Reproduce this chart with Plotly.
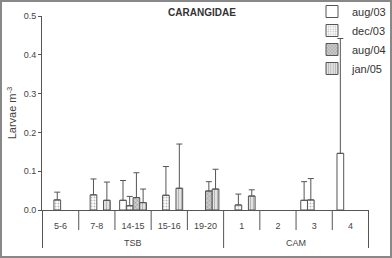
import plotly.graph_objects as go

# ---- data ----
categories = ["5-6", "7-8", "14-15", "15-16", "19-20", "1", "2", "3", "4"]
groups = ["TSB", "TSB", "TSB", "TSB", "TSB", "CAM", "CAM", "CAM", "CAM"]
series_names = ["aug/03", "dec/03", "aug/04", "jan/05"]

aug03 = [None, None, 0.025, None, None, None, None, 0.025, 0.146]
aug03_sd = [0, 0, 0.051, 0, 0, 0, 0, 0.048, 0.296]
dec03 = [0.026, 0.039, 0.011, 0.038, None, 0.013, None, 0.026, None]
dec03_sd = [0.020, 0.041, 0.024, 0.074, 0, 0.028, 0, 0.055, 0]
aug04 = [None, None, 0.032, None, 0.049, None, None, None, None]
aug04_sd = [0, 0, 0.064, 0, 0.024, 0, 0, 0, 0]
jan05 = [None, 0.025, 0.019, 0.056, 0.054, 0.036, None, None, None]
jan05_sd = [0, 0.047, 0.035, 0.114, 0.051, 0.016, 0, 0, 0]

y_ticks = [0.0, 0.1, 0.2, 0.3, 0.4, 0.5]

# ---- styling ----
W, H = 392, 258
L, R, T, B = 42, 23, 16, 48
PW, PH = W - L - R, H - T - B
LINE = "#555555"
TXT = "#444444"
FONT = "Arial, Liberation Sans, sans-serif"

styles = [
    dict(color="white", pattern=dict(shape="")),
    dict(color="white", pattern=dict(shape=".", fgcolor="#777777", bgcolor="white", size=3, solidity=0.35)),
    dict(color="#bbbbbb", pattern=dict(shape="x", fgcolor="#555555", bgcolor="#cccccc", size=3, solidity=0.3)),
    dict(color="#dddddd", pattern=dict(shape="|", fgcolor="#888888", bgcolor="#e2e2e2", size=3, solidity=0.35)),
]

fig = go.Figure()
for name, vals, sds, st in zip(series_names, [aug03, dec03, aug04, jan05],
                               [aug03_sd, dec03_sd, aug04_sd, jan05_sd], styles):
    fig.add_trace(go.Bar(
        x=categories, y=vals, name=name,
        marker=dict(color=st["color"], pattern=st["pattern"], line=dict(color=LINE, width=1)),
        error_y=dict(type="data", array=sds, arrayminus=[0] * len(sds), symmetric=False,
                     color=LINE, thickness=1, width=3),
    ))

n = len(categories)
shapes = []
# dividers between categories (taller at group edges)
for i in range(n + 1):
    xb = i - 0.5
    is_group_edge = (i == 0 or i == n or groups[i] != groups[i - 1])
    shapes.append(dict(type="line", xref="x", yref="paper", x0=xb, x1=xb,
                       y0=0, y1=-(38 if is_group_edge else 20) / PH,
                       line=dict(color=LINE, width=1)))
# outer border of the figure
shapes.append(dict(type="rect", xref="paper", yref="paper",
                   x0=(1 - L) / PW, x1=(W - 1 - L) / PW,
                   y0=-(H - 1 - (T + PH)) / PH, y1=(T + PH - 1) / PH,
                   line=dict(color="#888888", width=2)))

annotations = []
seen = []
for g in groups:
    if g not in seen:
        seen.append(g)
for g in seen:
    idx = [i for i, gg in enumerate(groups) if gg == g]
    annotations.append(dict(text=g, xref="x", yref="paper", x=(idx[0] + idx[-1]) / 2,
                            y=-33 / PH, showarrow=False, yanchor="middle",
                            font=dict(size=9, color=TXT, family=FONT)))

fig.update_layout(
    width=W, height=H,
    margin=dict(l=L, r=R, t=T, b=B, pad=0, autoexpand=False),
    paper_bgcolor="white", plot_bgcolor="white",
    barmode="group", bargap=0.26, bargroupgap=0,
    font=dict(family=FONT, size=9, color=TXT),
    title=dict(text="<b>CARANGIDAE</b>", x=202 / W, xanchor="center",
               y=1 - 12 / H, yanchor="middle", yref="container",
               font=dict(size=10, color="#333333", family=FONT)),
    xaxis=dict(type="category", categoryorder="array", categoryarray=categories,
               showline=True, linecolor=LINE, linewidth=1, ticks="", showgrid=False,
               tickfont=dict(size=9, color=TXT), ticklabelstandoff=7, zeroline=False),
    yaxis=dict(range=[0, 0.5], tickvals=y_ticks, tickformat=".1f", showline=True,
               linecolor=LINE, linewidth=1, ticks="outside", ticklen=3, tickcolor=LINE,
               showgrid=False, zeroline=False, tickfont=dict(size=9, color=TXT),
               title=dict(text="Larvae m<sup>-3</sup>", font=dict(size=11, color=TXT), standoff=4)),
    legend=dict(x=(312 - L) / PW, xanchor="left", y=(T + PH + 3) / PH, yanchor="top",
                bgcolor="rgba(0,0,0,0)", font=dict(size=11, color="#333333", family=FONT),
                itemclick=False, tracegroupgap=0),
    shapes=shapes, annotations=annotations,
)

fig.write_html("out.html")
